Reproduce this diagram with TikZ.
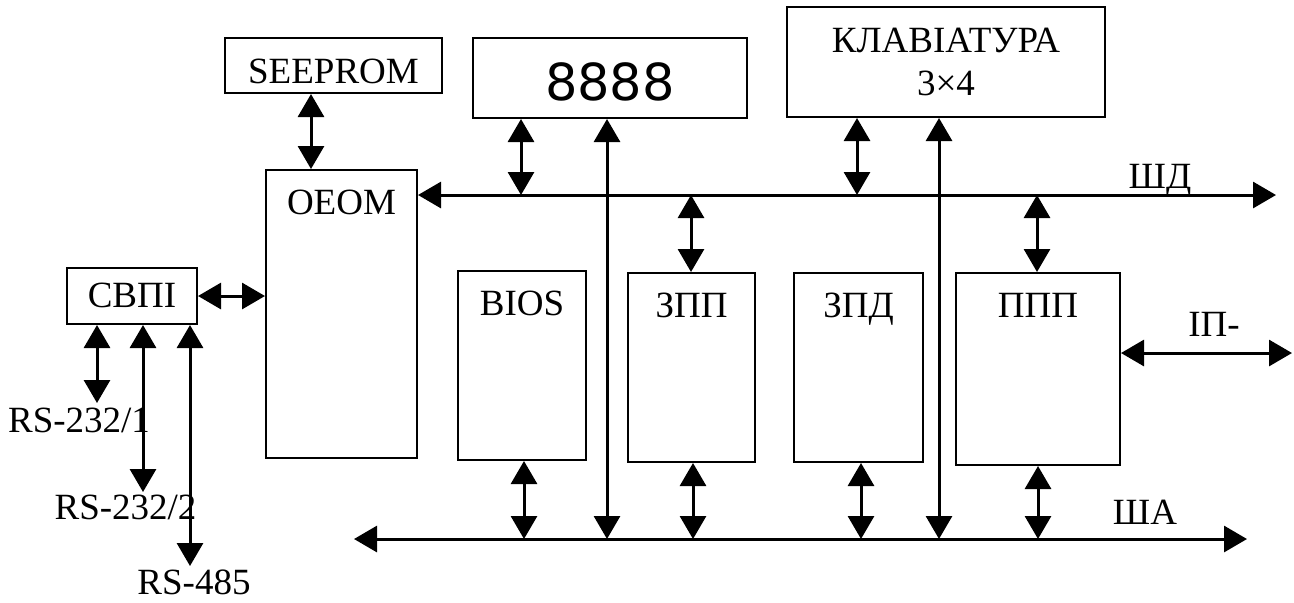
\documentclass[tikz,border=0pt]{standalone}
\usepackage{fontspec}
\setmainfont{Liberation Serif}
\newfontfamily\dispfont{DejaVu Sans}
\usetikzlibrary{arrows.meta,positioning}

\begin{document}
\begin{tikzpicture}[
  x=0.5pt, y=-0.5pt,
  >={Triangle[length=11.5pt,width=13pt]},
  blk/.style={
    draw=black, line width=1pt,
    inner sep=0pt, align=center,
    font=\fontsize{18.5}{21.5}\selectfont
  },
  lbl/.style={font=\fontsize{18.5}{21.5}\selectfont, inner sep=0pt, anchor=base},
  bi/.style={<->, line width=1.5pt}
]
\def\px{0.5pt}
\def\sdy{195}
\def\say{539}
\useasboundingbox (0,0) rectangle (1294,602);
%% TOP ROW
\node[blk, minimum width=217*\px, text height=22.5pt, text depth=5pt] (SEEPROM) at (333.5,65.5) {SEEPROM};
\node[blk, minimum width=274*\px, text height=31pt, text depth=9pt,
      font=\dispfont\fontsize{25.5}{28}\selectfont] (DISP) at (610,78) {8888};
\node[blk, minimum width=318*\px, minimum height=110*\px] (KBD) at (946,62) {КЛАВІАТУРА\\3×4};
%% MIDDLE ROW
\node[blk, minimum width=130*\px, text height=19.5pt, text depth=8.5pt] (SVPI) at (132,296) {СВПІ};
\node[blk, minimum width=151*\px, text height=22pt, text depth=122pt] (OEOM) at (341.5,314) {ОЕОМ};
\node[blk, minimum width=128*\px, text height=22pt, text depth=72.5pt] (BIOS) at (522,365.5) {BIOS};
\node[blk, minimum width=127*\px, text height=22pt, text depth=72.5pt] (ZPP)  at (691.5,367.5) {ЗПП};
\node[blk, minimum width=129*\px, text height=22pt, text depth=72.5pt] (ZPD)  at (858.5,367.5) {ЗПД};
\node[blk, minimum width=164*\px, text height=22pt, text depth=74pt] (PPP)  at (1038,369) {ППП};
%% BUS POINTS
\coordinate (SDend) at (1276,\sdy);
\coordinate (SAbeg) at (354,\say);
\coordinate (SAend) at (1247,\say);
\coordinate (t1) at (521,\sdy);
\coordinate (t2) at (857,\sdy);
\coordinate (t3) at (691,\sdy);
\coordinate (t4) at (1037,\sdy);
\coordinate (b1) at (524,\say);
\coordinate (b2) at (607,\say);
\coordinate (b3) at (693,\say);
\coordinate (b4) at (861,\say);
\coordinate (b5) at (939,\say);
\coordinate (b6) at (1038,\say);
\coordinate (ipEnd) at (1292,353);
\coordinate (rs1) at (97,403);
\coordinate (rs2) at (143,492);
\coordinate (rs3) at (190,566);
%% BUSES
\draw[bi] (OEOM.east |- SDend) -- (SDend);
\draw[bi] (SAbeg) -- (SAend);
\node[lbl] (sdT) at (1160,188) {ШД};
\node[lbl] (saT) at (1145,524) {ША};
%% LINKS
\draw[bi] ([xshift=-22.5*\px]SEEPROM.south) -- ([xshift=-30.5*\px]OEOM.north);
\draw[bi] (SVPI.east) -- (SVPI.east -| OEOM.west);
\draw[bi] (DISP.south -| t1) -- (t1);
\draw[bi] (KBD.south -| t2) -- (t2);
\draw[bi] (t3) -- (ZPP.north -| t3);
\draw[bi] (t4) -- (PPP.north -| t4);
\draw[bi] (BIOS.south -| b1) -- (b1);
\draw[bi] (DISP.south -| b2) -- (b2);
\draw[bi] (ZPP.south -| b3) -- (b3);
\draw[bi] (ZPD.south -| b4) -- (b4);
\draw[bi] (KBD.south -| b5) -- (b5);
\draw[bi] (PPP.south -| b6) -- (b6);
\draw[bi] (PPP.east |- ipEnd) -- (ipEnd);
\node[lbl] (ipT) at (1214,336) {ІП-};
%% SERIAL PORTS
\draw[bi] (SVPI.south -| rs1) -- (rs1);
\draw[bi] (SVPI.south -| rs2) -- (rs2);
\draw[bi] (SVPI.south -| rs3) -- (rs3);
\node[lbl] (rs1T) at (79,432)    {RS-232/1};
\node[lbl] (rs2T) at (125.5,519) {RS-232/2};
\node[lbl] (rs3T) at (194,594)   {RS-485};
\end{tikzpicture}
\end{document}
